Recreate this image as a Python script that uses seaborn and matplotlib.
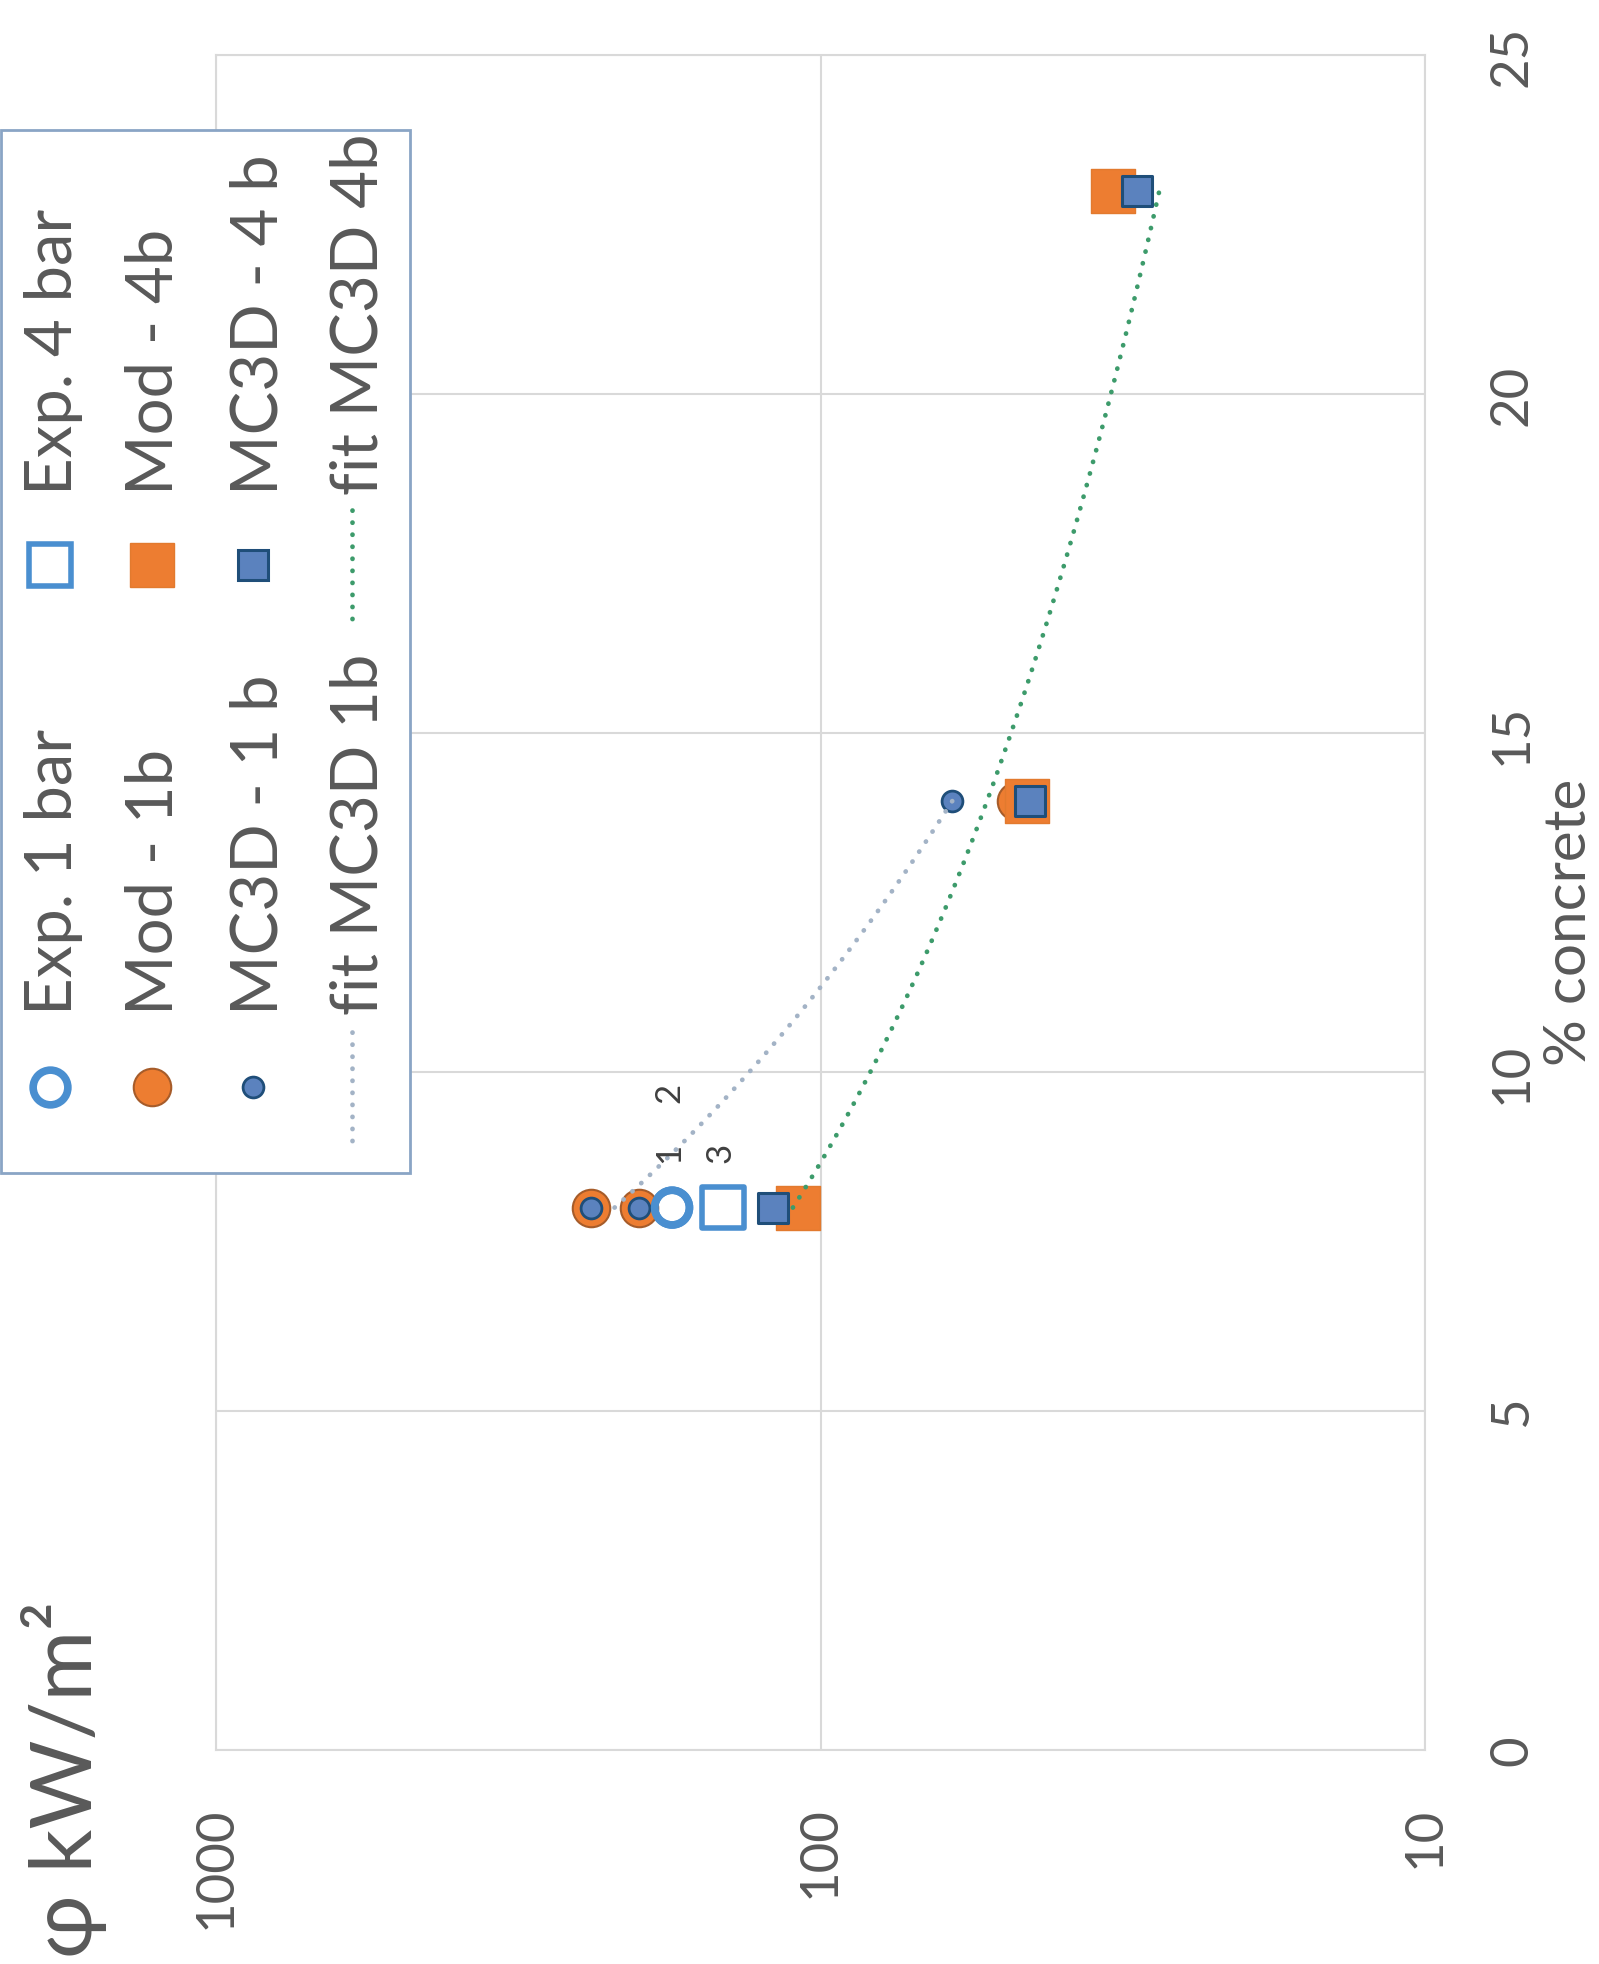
import numpy as np
import matplotlib
matplotlib.use("Agg")
import matplotlib.pyplot as plt
import seaborn as sns
from matplotlib.patches import Rectangle

# ---- data: % concrete vs heat flux (kW/m²) ----
exp1_concrete = [8, 8]
exp1_flux = [176, 176]
exp1_labels = ["1", "2"]

exp4_concrete = [8]
exp4_flux = [145]
exp4_labels = ["3"]

mod1_concrete = [8, 8, 14]
mod1_flux = [240, 200, 47.5]

mod4_concrete = [8, 14, 23]
mod4_flux = [109, 45.5, 32.8]

mc1_concrete = [8, 8, 14]
mc1_flux = [240, 200, 60.5]

mc4_concrete = [8, 14, 23]
mc4_flux = [120, 45, 30]

flux_ticks = [10, 100, 1000]
flux_tick_labels = ["10", "100", "1000"]
concrete_ticks = [0, 5, 10, 15, 20, 25]
concrete_tick_labels = ["0", "5", "10", "15", "20", "25"]

legend_labels = ["Exp. 1 bar", "Exp. 4 bar", "Mod - 1b", "Mod - 4b",
                 "MC3D - 1 b", "MC3D - 4 b", "fit MC3D 1b", "fit MC3D 4b"]

# ---- styling ----
sns.set_theme(style="white")
plt.rcParams["font.family"] = ["Lato", "DejaVu Sans"]
TXT = "#595959"
GRID = "#D9D9D9"
ORANGE = "#ED7D31"
ORANGE_EDGE = "#A65C2A"
BLUE_FILL = "#5B82BE"
BLUE_EDGE = "#1F4E79"
EXP_BLUE = "#4A8FD0"
FIT1 = "#A3B3C6"
FIT4 = "#3D9B6B"

W, H = 1599, 1965
fig = plt.figure(figsize=(W / 100, H / 100), dpi=100)
fig.patch.set_facecolor("white")

# plot drawn turned on its side: flux runs horizontally, % concrete vertically
ax = fig.add_axes([216 / W, 1 - 1751 / H, (1425 - 216) / W, (1751 - 56) / H])
ax.set_xscale("log")
ax.set_xlim(1000, 10)
ax.set_ylim(0, 25)
ax.set_xticks(flux_ticks)
ax.set_xticklabels(flux_tick_labels)
ax.minorticks_off()
ax.set_yticks(concrete_ticks)
ax.set_yticklabels(concrete_tick_labels)
ax.yaxis.tick_right()
ax.grid(True, color=GRID, lw=1.5)
ax.set_axisbelow(True)
for sp in ax.spines.values():
    sp.set_color(GRID)
    sp.set_linewidth(1.5)
ax.tick_params(axis="x", length=0, pad=40, labelsize=38, labelcolor=TXT, labelrotation=90)
ax.tick_params(axis="y", length=0, pad=46, labelsize=38, labelcolor=TXT, labelrotation=90)
for t in ax.get_yticklabels():
    t.set_verticalalignment("center")

# marker styles (size in points, edge width in points)
styles = {
    "mod1": dict(marker="o", s=27 ** 2, color=ORANGE, edgecolor=ORANGE_EDGE, linewidth=1.5),
    "mod4": dict(marker="s", s=32 ** 2, color=ORANGE, edgecolor="#E27A2E", linewidth=1.0),
    "mc1": dict(marker="o", s=15 ** 2, color=BLUE_FILL, edgecolor=BLUE_EDGE, linewidth=2.0),
    "mc4": dict(marker="s", s=22 ** 2, color=BLUE_FILL, edgecolor=BLUE_EDGE, linewidth=2.2),
    "exp1": dict(marker="o", s=25 ** 2, color="none", edgecolor=EXP_BLUE, linewidth=5.5),
    "exp4": dict(marker="s", s=30 ** 2, color="none", edgecolor=EXP_BLUE, linewidth=4.0),
}

series = [
    ("mod1", mod1_flux, mod1_concrete, 3),
    ("mod4", mod4_flux, mod4_concrete, 3),
    ("mc1", mc1_flux, mc1_concrete, 4),
    ("mc4", mc4_flux, mc4_concrete, 4),
    ("exp1", exp1_flux, exp1_concrete, 5),
    ("exp4", exp4_flux, exp4_concrete, 5),
]
for key, fx, cy, z in series:
    sns.scatterplot(x=fx, y=cy, ax=ax, legend=False, zorder=z, **styles[key])


# power-law trendlines fitted to the MC3D points
def power_fit(conc, flux):
    b, a = np.polyfit(np.log(conc), np.log(flux), 1)
    cc = np.linspace(min(conc), max(conc), 120)
    return cc, np.exp(a) * cc ** b


dot = (0, (0.05, 2.5))
for conc, flux, col in [(mc1_concrete, mc1_flux, FIT1), (mc4_concrete, mc4_flux, FIT4)]:
    cc, ff = power_fit(conc, flux)
    sns.lineplot(x=ff, y=cc, ax=ax, sort=False, estimator=None, color=col, lw=3.4,
                 linestyle=dot, dash_capstyle="round", zorder=6)

# experiment numbers next to the measured points
for fx, cy, labs in [(exp1_flux, exp1_concrete, exp1_labels), (exp4_flux, exp4_concrete, exp4_labels)]:
    for k, lab in enumerate(labs):
        ax.annotate(lab, (fx[k], cy[k]), xytext=(-2, 40 + 43 * k), textcoords="offset points",
                    rotation=90, ha="center", va="center", fontsize=25, color="#404040", zorder=7)

# axis titles
fig.text(1586 / W, 1 - 922 / H, "% concrete", rotation=90, rotation_mode="anchor",
         ha="center", va="baseline", fontsize=42, color=TXT)
fig.text(92 / W, 1 - 1780 / H, "φ kW/m²", rotation=90, rotation_mode="anchor",
         ha="center", va="baseline", fontsize=62, color=TXT)

# ---- legend, laid out sideways ----
lax = fig.add_axes([0, 0, 1, 1], zorder=10)
lax.set_xlim(0, W)
lax.set_ylim(H, 0)
lax.axis("off")
lax.add_patch(Rectangle((1, 131), 409, 1043, facecolor="white", edgecolor="#8AA5C5", lw=2.0))

col_base = [72, 173, 277, 378]
col_mark = [50, 152, 253, 352]
row_text = [1015, 495]
row_mark = [1088, 566]
legend_keys = ["exp1", "exp4", "mod1", "mod4", "mc1", "mc4", "fit1", "fit4"]

for i, (key, lab) in enumerate(zip(legend_keys, legend_labels)):
    c, r = i // 2, i % 2
    if key.startswith("fit"):
        col = FIT1 if key == "fit1" else FIT4
        lax.plot([col_mark[c], col_mark[c]], [row_mark[r] - 55, row_mark[r] + 55], color=col,
                 lw=3.4, linestyle=dot, dash_capstyle="round")
    else:
        st = styles[key]
        lax.plot([col_mark[c]], [row_mark[r]], marker=st["marker"], markersize=np.sqrt(st["s"]),
                 markerfacecolor=st["color"], markeredgecolor=st["edgecolor"],
                 markeredgewidth=st["linewidth"], linestyle="none")
    lax.text(col_base[c], row_text[r], lab, rotation=90, rotation_mode="anchor",
             ha="left", va="baseline", fontsize=47, color=TXT)

fig.savefig("out.png", dpi=100, facecolor="white")
